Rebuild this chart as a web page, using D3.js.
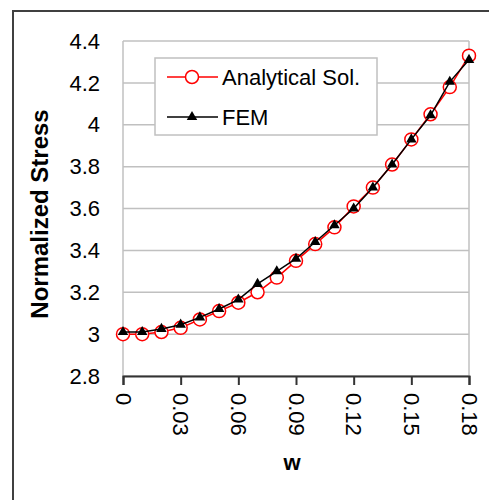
<!DOCTYPE html>
<html lang="en">
	<head>
		<meta charset="utf-8">
		<title>Normalized Stress</title>
		<script type="text/javascript" src="https://cdn.jsdelivr.net/npm/d3@7"></script>
		<style type="text/css">
			body{
				margin: 0;
				background: #fff;
			}
			svg{
				display: block;
				font-family: "Liberation Sans", Arial, sans-serif;
			}
		</style>
	</head>
	<body>
		<script type="text/javascript">

			// data
			var wValues = [0, 0.01, 0.02, 0.03, 0.04, 0.05, 0.06, 0.07, 0.08, 0.09,
			               0.10, 0.11, 0.12, 0.13, 0.14, 0.15, 0.16, 0.17, 0.18];
			var analytical = [3.00, 3.00, 3.01, 3.03, 3.07, 3.11, 3.15, 3.20, 3.27, 3.35,
			                  3.43, 3.51, 3.61, 3.70, 3.81, 3.93, 4.05, 4.18, 4.33];
			var fem = [3.01, 3.01, 3.025, 3.045, 3.08, 3.12, 3.165, 3.24, 3.30, 3.36,
			           3.44, 3.52, 3.60, 3.70, 3.81, 3.93, 4.045, 4.205, 4.31];
			var xTicks = [0, 0.03, 0.06, 0.09, 0.12, 0.15, 0.18];
			var yTicks = [2.8, 3, 3.2, 3.4, 3.6, 3.8, 4, 4.2, 4.4];
			var seriesNames = ["Analytical Sol.", "FEM"];

			var svg = d3.select("body")
						.append("svg")
						.attr("width", 489)
						.attr("height", 500);

			// outer chart frame (runs off the right and bottom edge)
			svg.append("rect")
				.attr("x", 13)
				.attr("y", 11)
				.attr("width", 520)
				.attr("height", 520)
				.attr("fill", "#fff")
				.attr("stroke", "#404040")
				.attr("stroke-width", 2);

			var plotLeft = 123, plotRight = 469, plotTop = 41, plotBottom = 376;

			var x = d3.scaleLinear().domain([0, 0.18]).range([plotLeft, plotRight]);
			var y = d3.scaleLinear().domain([2.8, 4.4]).range([plotBottom, plotTop]);

			// horizontal gridlines
			svg.append("g")
				.selectAll("line")
				.data(yTicks)
				.enter()
				.append("line")
				.attr("x1", plotLeft)
				.attr("x2", plotRight)
				.attr("y1", function(d) {return y(d);})
				.attr("y2", function(d) {return y(d);})
				.attr("stroke", "#c0c0c0")
				.attr("stroke-width", 1.5);

			// plot area sides
			svg.append("line")
				.attr("x1", plotLeft).attr("x2", plotLeft)
				.attr("y1", plotTop).attr("y2", plotBottom)
				.attr("stroke", "#c0c0c0").attr("stroke-width", 1.5);
			svg.append("line")
				.attr("x1", plotRight).attr("x2", plotRight)
				.attr("y1", plotTop).attr("y2", plotBottom)
				.attr("stroke", "#c0c0c0").attr("stroke-width", 1.5);

			// y tick labels
			svg.append("g")
				.selectAll("text")
				.data(yTicks)
				.enter()
				.append("text")
				.attr("x", 100)
				.attr("y", function(d) {return y(d);})
				.attr("dy", "0.35em")
				.attr("text-anchor", "end")
				.attr("font-size", 22)
				.attr("fill", "#000")
				.text(function(d) {return +d.toFixed(1) + "";});

			// x axis with rotated labels
			var xAxis = svg.append("g")
				.attr("transform", "translate(0," + plotBottom + ")")
				.call(d3.axisBottom(x).tickValues(xTicks).tickSize(9).tickPadding(0)
					.tickFormat(function(d) {return +d.toFixed(2) + "";}));
			xAxis.select(".domain").attr("stroke", "#333").attr("stroke-width", 2);
			xAxis.selectAll(".tick line").attr("stroke", "#333").attr("stroke-width", 2);
			xAxis.selectAll(".tick text")
				.attr("transform", "rotate(90)")
				.attr("x", 17)
				.attr("y", 0)
				.attr("dy", "0.35em")
				.attr("text-anchor", "start")
				.attr("font-size", 22)
				.attr("font-family", "Liberation Sans, Arial, sans-serif")
				.attr("fill", "#000");

			// axis titles
			svg.append("text")
				.attr("x", 292)
				.attr("y", 470)
				.attr("text-anchor", "middle")
				.attr("font-size", 22)
				.attr("font-weight", "bold")
				.text("w");

			svg.append("text")
				.attr("transform", "translate(48,214) rotate(-90)")
				.attr("text-anchor", "middle")
				.attr("font-size", 24)
				.attr("font-weight", "bold")
				.text("Normalized Stress");

			var line = d3.line()
				.x(function(d) {return x(d[0]);})
				.y(function(d) {return y(d[1]);});

			var anaData = wValues.map(function(w, i) {return [w, analytical[i]];});
			var femData = wValues.map(function(w, i) {return [w, fem[i]];});

			var triangle = d3.symbol().type(d3.symbolTriangle).size(48);

			// analytical series
			svg.append("path")
				.datum(anaData)
				.attr("d", line)
				.attr("fill", "none")
				.attr("stroke", "#ff0000")
				.attr("stroke-width", 1.5);
			svg.append("g")
				.selectAll("circle")
				.data(anaData)
				.enter()
				.append("circle")
				.attr("cx", function(d) {return x(d[0]);})
				.attr("cy", function(d) {return y(d[1]);})
				.attr("r", 6.5)
				.attr("fill", "#fff")
				.attr("stroke", "#ff0000")
				.attr("stroke-width", 1.5);

			// FEM series
			svg.append("path")
				.datum(femData)
				.attr("d", line)
				.attr("fill", "none")
				.attr("stroke", "#000")
				.attr("stroke-width", 1.5);
			svg.append("g")
				.selectAll("path")
				.data(femData)
				.enter()
				.append("path")
				.attr("d", triangle)
				.attr("transform", function(d) {return "translate(" + x(d[0]) + "," + y(d[1]) + ")";})
				.attr("fill", "#000");

			// legend
			var legend = svg.append("g");
			legend.append("rect")
				.attr("x", 155)
				.attr("y", 58)
				.attr("width", 222)
				.attr("height", 77)
				.attr("fill", "#fff")
				.attr("stroke", "#c0c0c0")
				.attr("stroke-width", 1.5);

			var legendRows = [
				{name: seriesNames[0], color: "#ff0000", y: 77},
				{name: seriesNames[1], color: "#000", y: 117}
			];
			legendRows.forEach(function(r, i) {
				legend.append("line")
					.attr("x1", 167).attr("x2", 218)
					.attr("y1", r.y).attr("y2", r.y)
					.attr("stroke", r.color).attr("stroke-width", 1.5);
				if (i === 0) {
					legend.append("circle")
						.attr("cx", 192).attr("cy", r.y).attr("r", 6.5)
						.attr("fill", "#fff").attr("stroke", r.color).attr("stroke-width", 1.5);
				} else {
					legend.append("path")
						.attr("d", triangle)
						.attr("transform", "translate(192," + r.y + ")")
						.attr("fill", "#000");
				}
				legend.append("text")
					.attr("x", 222)
					.attr("y", r.y)
					.attr("dy", "0.35em")
					.attr("font-size", 22)
					.attr("fill", "#000")
					.text(r.name);
			});

		</script>
	</body>
</html>
